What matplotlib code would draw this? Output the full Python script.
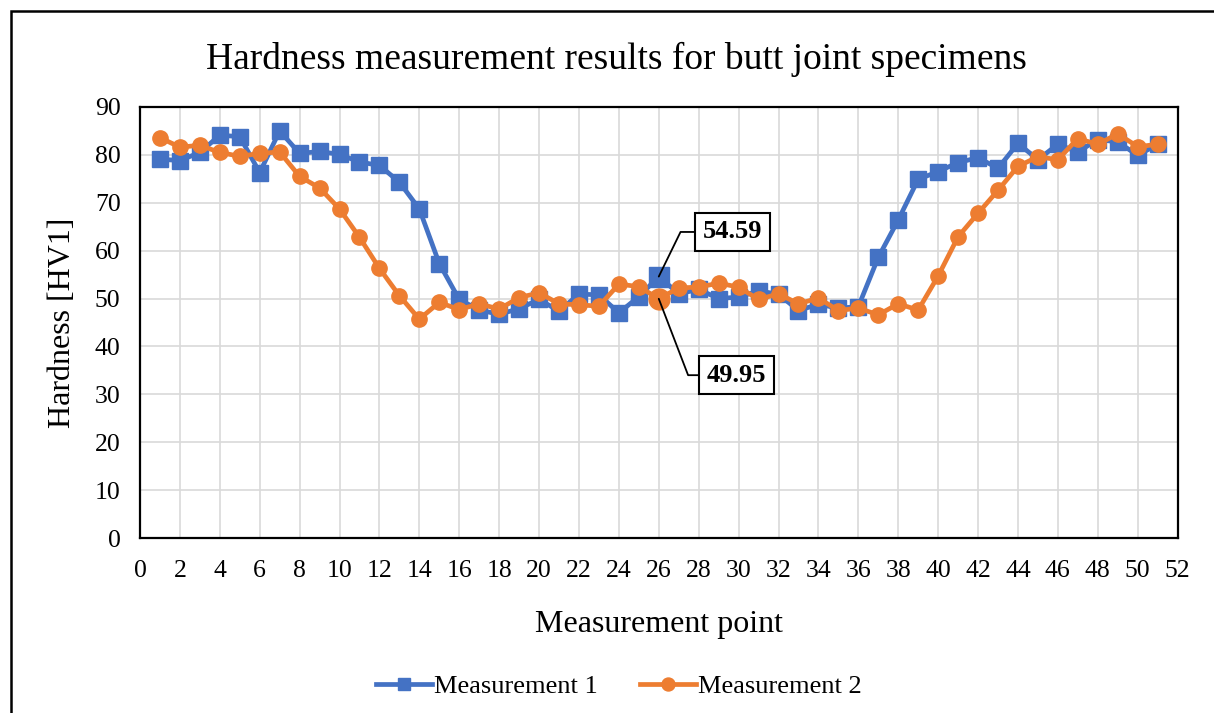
import matplotlib
matplotlib.use("Agg")
import matplotlib.pyplot as plt
from matplotlib.patches import Rectangle

plt.rcParams['font.family'] = ['Liberation Serif', 'DejaVu Serif']

# hardness readings along the joint, two passes
points = list(range(1, 52))
meas1 = [79.1, 78.8, 80.5, 84.1, 83.8, 76.3, 85.0, 80.3, 80.7, 80.1,
         78.5, 77.8, 74.3, 68.7, 57.3, 49.8, 47.6, 46.7, 47.9, 49.8,
         47.4, 50.9, 50.8, 47.0, 50.4, 54.59, 51.0, 51.9, 50.0, 50.3,
         51.6, 50.9, 47.5, 48.8, 48.0, 48.3, 58.6, 66.4, 74.9, 76.5,
         78.4, 79.4, 77.2, 82.4, 79.0, 82.2, 80.6, 83.2, 82.7, 79.9, 82.2]
meas2 = [83.6, 81.6, 82.0, 80.5, 79.7, 80.3, 80.6, 75.5, 73.1, 68.7,
         62.8, 56.3, 50.6, 45.7, 49.2, 47.7, 48.9, 47.8, 50.2, 51.2,
         48.9, 48.7, 48.4, 53.0, 52.5, 49.95, 52.2, 52.4, 53.2, 52.4,
         49.8, 51.0, 48.9, 50.1, 47.5, 48.0, 46.6, 48.9, 47.6, 54.7,
         62.9, 67.8, 72.6, 77.6, 79.6, 79.0, 83.4, 82.2, 84.4, 81.7, 82.2]
labels = ["Measurement 1", "Measurement 2"]
hl_point = 26

blue = "#4472C4"
orange = "#ED7D31"

fig = plt.figure(figsize=(12.14, 7.13), dpi=100)
ax = fig.add_axes([0.1153, 0.2454, 0.8547, 0.6046])

ax.plot(points, meas1, color=blue, lw=3.4, marker='s', ms=11, label=labels[0], zorder=3)
ax.plot(points, meas2, color=orange, lw=3.4, marker='o', ms=11, label=labels[1], zorder=4)

# emphasised markers at the labelled point
i = points.index(hl_point)
ax.plot([hl_point], [meas1[i]], color=blue, marker='s', ms=15, ls='none', zorder=3)
ax.plot([hl_point], [meas2[i]], color=orange, marker='o', ms=15, ls='none', zorder=4)

box = dict(boxstyle='square,pad=0.28', fc='white', ec='black', lw=1.5)
ax.annotate(f"{meas1[i]:.2f}", xy=(hl_point, meas1[i]), xytext=(29.7, 63.9),
            ha='center', va='center', fontsize=19, fontweight='bold', bbox=box,
            arrowprops=dict(arrowstyle='-', color='black', lw=1.3, shrinkA=0, shrinkB=0,
                            connectionstyle="angle,angleA=0,angleB=64,rad=0"), zorder=6)
ax.annotate(f"{meas2[i]:.2f}", xy=(hl_point, meas2[i]), xytext=(29.9, 34.0),
            ha='center', va='center', fontsize=19, fontweight='bold', bbox=box,
            arrowprops=dict(arrowstyle='-', color='black', lw=1.3, shrinkA=0, shrinkB=0,
                            connectionstyle="angle,angleA=0,angleB=-69,rad=0"), zorder=6)

ax.set_xlim(0, 52)
ax.set_ylim(0, 90)
ax.set_xticks(range(0, 53, 2))
ax.set_yticks(range(0, 91, 10))
ax.grid(True, color='#D9D9D9', lw=1.2)
ax.set_axisbelow(True)
ax.tick_params(length=0, labelsize=18.5)
ax.tick_params(axis='x', pad=16)
ax.tick_params(axis='y', pad=14)
for s in ax.spines.values():
    s.set_linewidth(1.6)
    s.set_color('black')

ax.set_xlabel("Measurement point", fontsize=23, labelpad=20)
ax.set_ylabel("Hardness [HV1]", fontsize=23, labelpad=13)
fig.text(0.508, 0.917, "Hardness measurement results for butt joint specimens",
         ha='center', va='center', fontsize=27)

fig.legend(loc='center', bbox_to_anchor=(0.51, 0.037), ncol=2, frameon=False,
           fontsize=19, handlelength=2.1, columnspacing=1.6, handletextpad=0.1,
           markerscale=0.85)

# outer chart frame
fig.patches.append(Rectangle((11 / 1214, -0.1), 1.2, 1 - 11 / 713 + 0.1,
                             transform=fig.transFigure, fill=False,
                             ec='black', lw=1.8, zorder=10))

fig.savefig("out.png", dpi=100)
